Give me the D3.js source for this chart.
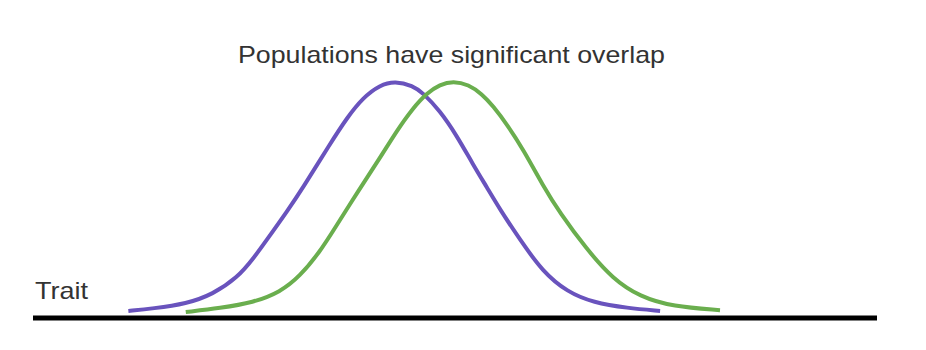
<!DOCTYPE html>
<html>
<head>
<meta charset="utf-8">
<script src="https://cdn.jsdelivr.net/npm/d3@7"></script>
<style>
  html, body { margin: 0; padding: 0; background: #fff; }
  svg { display: block; }
</style>
</head>
<body>
<svg id="chart" width="926" height="350"></svg>
<script>
const title = 'Populations have significant overlap';
const axisLabel = 'Trait';

// trait values (x) and relative frequency (y)
const purpleTrait = [11.3, 14.2, 18.2, 21.3, 24.2, 26.1, 28.1, 30.1, 31.9, 35.2, 37.2, 39.1, 41.1, 42.9, 45.0, 46.2, 48.2, 50.2, 52.1, 53.8, 55.3, 57.7, 60.4, 63.3, 66.4, 70.4, 74.3];
const purpleFreq  = [0.03, 0.04, 0.06, 0.1, 0.17, 0.25, 0.35, 0.45, 0.545, 0.735, 0.845, 0.93, 0.983, 1.0, 0.98, 0.95, 0.875, 0.77, 0.65, 0.55, 0.46, 0.33, 0.195, 0.11, 0.065, 0.042, 0.03];

const greenTrait = [18.1, 22.2, 26.1, 29.3, 31.6, 34.0, 35.6, 38.7, 41.1, 43.1, 45.0, 46.7, 48.2, 49.8, 51.6, 53.2, 54.5, 56.2, 58.1, 60.4, 62.4, 65.6, 68.7, 71.9, 75.8, 81.4];
const greenFreq  = [0.025, 0.042, 0.065, 0.11, 0.175, 0.28, 0.37, 0.545, 0.675, 0.79, 0.885, 0.95, 0.985, 1.0, 0.985, 0.945, 0.895, 0.815, 0.71, 0.56, 0.445, 0.29, 0.165, 0.09, 0.048, 0.033];

const svg = d3.select('#chart');

const x = d3.scaleLinear().domain([0, 100]).range([33, 877]);
const y = d3.scaleLinear().domain([0, 1]).range([318, 81]);

const line = d3.line()
  .x((d) => x(d[0]))
  .y((d) => y(d[1]))
  .curve(d3.curveBasis);

const series = [
  { name: 'purple', color: '#6953bd', pts: d3.zip(purpleTrait, purpleFreq) },
  { name: 'green', color: '#6aae4e', pts: d3.zip(greenTrait, greenFreq) },
];

svg.selectAll('path.curve')
  .data(series)
  .join('path')
  .attr('class', 'curve')
  .attr('fill', 'none')
  .attr('stroke', (d) => d.color)
  .attr('stroke-width', 4)
  .attr('stroke-linecap', 'butt')
  .attr('d', (d) => line(d.pts));

// baseline (trait axis)
svg.append('line')
  .attr('x1', x(0))
  .attr('x2', x(100))
  .attr('y1', y(0))
  .attr('y2', y(0))
  .attr('stroke', '#000')
  .attr('stroke-width', 5);

svg.append('text')
  .attr('x', 35)
  .attr('y', 299)
  .attr('font-family', 'Liberation Sans, Arial, sans-serif')
  .attr('font-size', 24)
  .attr('fill', '#333')
  .attr('textLength', 53)
  .attr('lengthAdjust', 'spacingAndGlyphs')
  .text(axisLabel);

svg.append('text')
  .attr('x', 238)
  .attr('y', 63)
  .attr('font-family', 'Liberation Sans, Arial, sans-serif')
  .attr('font-size', 24)
  .attr('fill', '#333')
  .attr('textLength', 427)
  .attr('lengthAdjust', 'spacingAndGlyphs')
  .text(title);
</script>
</body>
</html>
